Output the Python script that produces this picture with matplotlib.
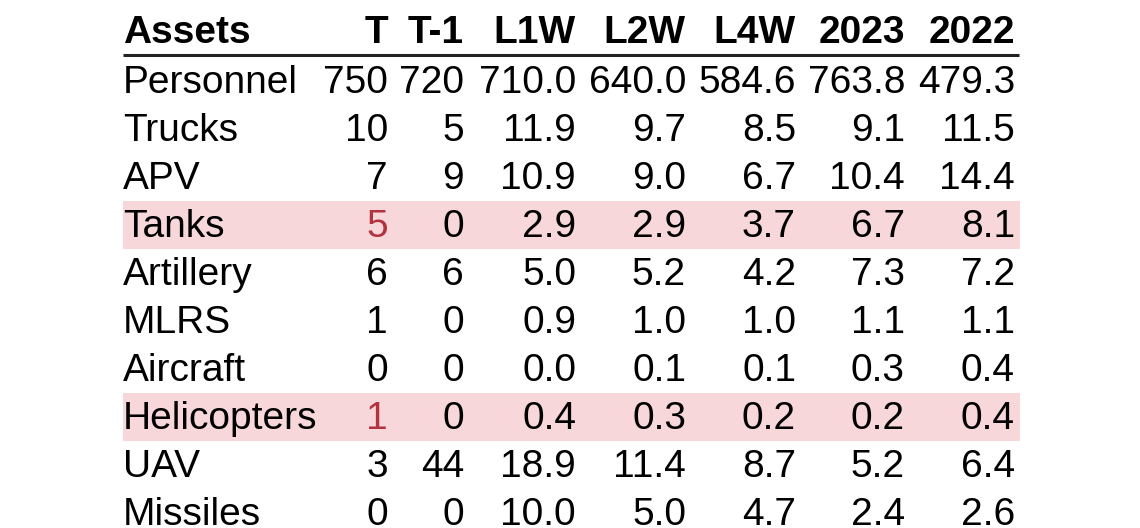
import matplotlib
matplotlib.use("Agg")
import matplotlib.pyplot as plt
from matplotlib.patches import Rectangle

columns = ["Assets", "T", "T-1", "L1W", "L2W", "L4W", "2023", "2022"]
assets = ["Personnel", "Trucks", "APV", "Tanks", "Artillery", "MLRS",
          "Aircraft", "Helicopters", "UAV", "Missiles"]
col_T = ["750", "10", "7", "5", "6", "1", "0", "1", "3", "0"]
col_T1 = ["720", "5", "9", "0", "6", "0", "0", "0", "44", "0"]
col_L1W = ["710.0", "11.9", "10.9", "2.9", "5.0", "0.9", "0.0", "0.4", "18.9", "10.0"]
col_L2W = ["640.0", "9.7", "9.0", "2.9", "5.2", "1.0", "0.1", "0.3", "11.4", "5.0"]
col_L4W = ["584.6", "8.5", "6.7", "3.7", "4.2", "1.0", "0.1", "0.2", "8.7", "4.7"]
col_2023 = ["763.8", "9.1", "10.4", "6.7", "7.3", "1.1", "0.3", "0.2", "5.2", "2.4"]
col_2022 = ["479.3", "11.5", "14.4", "8.1", "7.2", "1.1", "0.4", "0.4", "6.4", "2.6"]
highlight_rows = ["Tanks", "Helicopters"]

value_cols = [col_T, col_T1, col_L1W, col_L2W, col_L4W, col_2023, col_2022]

W, H = 1140, 528
fig = plt.figure(figsize=(W / 100, H / 100), dpi=100)
ax = fig.add_axes([0, 0, 1, 1])
ax.set_xlim(0, W)
ax.set_ylim(H, 0)
ax.axis("off")

font = "Liberation Sans"
fs = 28
left = 123
right_edges = [388, 464, 576, 686, 796, 905, 1015]
header_base = 43
row0_base = 93
row_h = 48
hl_color = "#f8d7da"
red = "#b3323f"

# header
ax.text(left, header_base, columns[0], ha="left", va="baseline", fontsize=fs,
        fontweight="bold", family=font)
for name, xr in zip(columns[1:], right_edges):
    ax.text(xr, header_base, name, ha="right", va="baseline", fontsize=fs,
            fontweight="bold", family=font)
ax.plot([left, 1019], [55, 55], color="#222222", lw=2.2, solid_capstyle="butt")

for i, a in enumerate(assets):
    yb = row0_base + i * row_h
    hl = a in highlight_rows
    if hl:
        top = yb - 36
        ax.add_patch(Rectangle((left, top), 1020 - left, row_h,
                               facecolor=hl_color, edgecolor="none", zorder=0))
    ax.text(left, yb, a, ha="left", va="baseline", fontsize=fs, family=font)
    for j, (col, xr) in enumerate(zip(value_cols, right_edges)):
        c = red if (hl and j == 0) else "black"
        ax.text(xr, yb, col[i], ha="right", va="baseline", fontsize=fs,
                family=font, color=c)

fig.savefig("out.png", dpi=100)
